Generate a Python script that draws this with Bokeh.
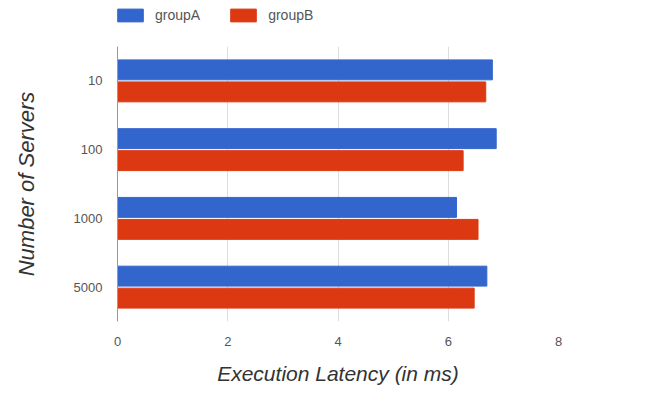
from bokeh.plotting import figure
from bokeh.models import ColumnDataSource, Legend, LegendItem, FactorRange
from bokeh.layouts import column
from bokeh.transform import dodge
from bokeh.embed import file_html
from bokeh.resources import INLINE

# Execution latency per server count
servers = ["10", "100", "1000", "5000"]
group_a = [6.80, 6.87, 6.15, 6.70]
group_b = [6.68, 6.27, 6.54, 6.47]
x_ticks = [0, 2, 4, 6, 8]

source = ColumnDataSource(dict(servers=servers, groupA=group_a, groupB=group_b))

FONT = "Liberation Sans"
BLUE = "#3366CC"
RED = "#DC3912"
BAR_H = 0.29
OFFSET = 0.16


def add_bars(fig, visible=True):
    yr = fig.y_range
    ra = fig.hbar(y=dodge("servers", OFFSET, range=yr), right="groupA", left=0,
                  height=BAR_H, source=source, fill_color=BLUE, line_color=BLUE,
                  visible=visible)
    rb = fig.hbar(y=dodge("servers", -OFFSET, range=yr), right="groupB", left=0,
                  height=BAR_H, source=source, fill_color=RED, line_color=RED,
                  visible=visible)
    return ra, rb


# main chart
p = figure(
    width=666, height=355,
    y_range=FactorRange(factors=list(reversed(servers))),
    x_range=(0, 8),
    output_backend="svg", toolbar_location=None,
    min_border_left=117, min_border_right=108,
    min_border_top=0, min_border_bottom=80,
)
add_bars(p)

p.outline_line_color = None
p.xaxis.ticker = x_ticks
p.xaxis.axis_line_color = None
p.xaxis.major_tick_line_color = None
p.xaxis.minor_tick_line_color = None
p.xaxis.major_label_text_font = FONT
p.xaxis.major_label_text_font_size = "13px"
p.xaxis.major_label_text_color = "#555555"
p.xaxis.major_label_standoff = 9
p.xaxis.axis_label = "Execution Latency (in ms)"
p.xaxis.axis_label_text_font = FONT
p.xaxis.axis_label_text_font_style = "italic"
p.xaxis.axis_label_text_font_size = "21px"
p.xaxis.axis_label_text_color = "#333333"
p.xaxis.axis_label_standoff = 13

p.yaxis.axis_line_color = "#999999"
p.yaxis.major_tick_line_color = None
p.yaxis.minor_tick_line_color = None
p.yaxis.major_label_text_font = FONT
p.yaxis.major_label_text_font_size = "13px"
p.yaxis.major_label_text_color = "#555555"
p.yaxis.major_label_standoff = 9
p.yaxis.axis_label = "Number of Servers"
p.yaxis.axis_label_text_font = FONT
p.yaxis.axis_label_text_font_style = "italic"
p.yaxis.axis_label_text_font_size = "22px"
p.yaxis.axis_label_text_color = "#333333"
p.yaxis.axis_label_standoff = 32

p.xgrid.grid_line_color = "#dddddd"
p.ygrid.grid_line_color = None

# legend strip above the chart
lg = figure(
    width=666, height=46,
    y_range=FactorRange(factors=list(reversed(servers))),
    x_range=(0, 8),
    output_backend="svg", toolbar_location=None,
    min_border=0,
)
lg.axis.visible = False
lg.grid.grid_line_color = None
lg.outline_line_color = None
la, lb = add_bars(lg, visible=False)

legend = Legend(
    items=[LegendItem(label="groupA", renderers=[la]),
           LegendItem(label="groupB", renderers=[lb])],
    orientation="horizontal",
    location=(-3, 23),
    glyph_width=32, glyph_height=16,
    label_text_font=FONT, label_text_font_size="14px",
    label_text_color="#555555",
    label_standoff=9, spacing=27, padding=0, margin=0,
    border_line_color=None, background_fill_alpha=0,
)
lg.add_layout(legend, "center")

layout = column(lg, p, spacing=0)
open("out.html", "w").write(file_html(layout, INLINE))
